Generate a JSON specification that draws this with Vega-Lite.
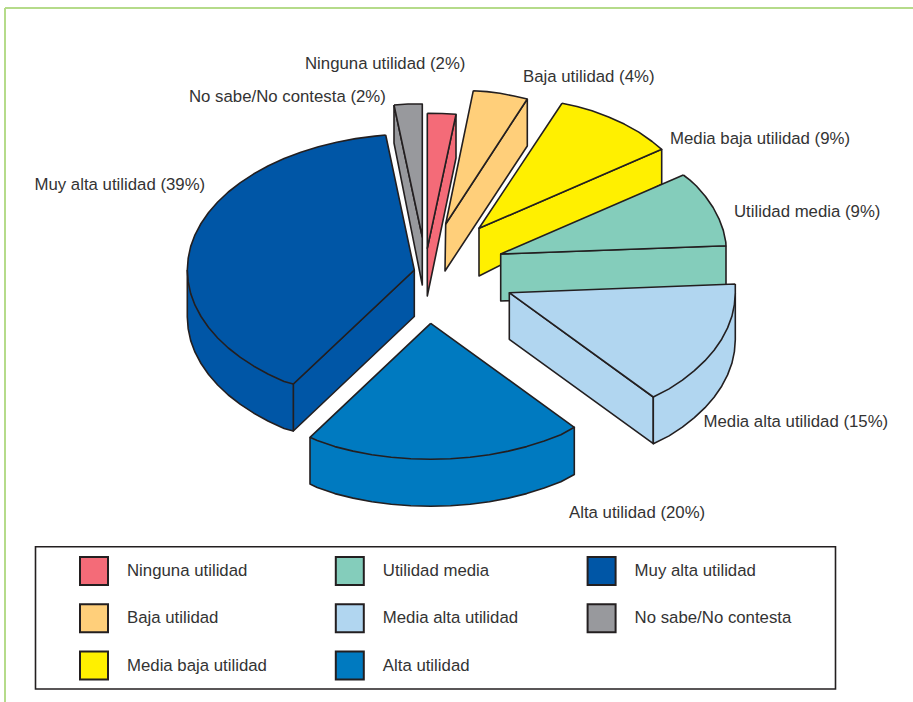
{"$schema":"https://vega.github.io/schema/vega-lite/v6.json","width":913,"height":702,"padding":0,"autosize":{"type":"none"},"background":"white","view":{"stroke":null},
"datasets":{"piezas":[{"p":"a1","c":"Muy alta utilidad"},{"p":"a2","c":"Muy alta utilidad"},{"p":"a3","c":"Muy alta utilidad"},{"p":"b1","c":"No sabe/No contesta"},{"p":"b2","c":"No sabe/No contesta"},{"p":"c1","c":"Ninguna utilidad"},{"p":"c2","c":"Ninguna utilidad"},{"p":"d1","c":"Baja utilidad"},{"p":"d2","c":"Baja utilidad"},{"p":"e1","c":"Media baja utilidad"},{"p":"e2","c":"Media baja utilidad"},{"p":"f1","c":"Utilidad media"},{"p":"f2","c":"Utilidad media"},{"p":"g1","c":"Media alta utilidad"},{"p":"g2","c":"Media alta utilidad"},{"p":"g3","c":"Media alta utilidad"},{"p":"h1","c":"Alta utilidad"},{"p":"h2","c":"Alta utilidad"}]},
"layer":[
{"data":{"values":[{"x":5,"x2":5,"y":8,"y2":702},{"x":5,"x2":913,"y":8,"y2":8}]},"mark":{"type":"rule","stroke":"#B5DB8A","strokeWidth":2},"encoding":{"x":{"field":"x","type":"quantitative","scale":{"domain":[0,913]},"axis":null},"y":{"field":"y","type":"quantitative","scale":{"domain":[702,0]},"axis":null},"x2":{"field":"x2"},"y2":{"field":"y2"}}},
{"data":{"values":[{"x":35.5,"x2":835.5,"y":546.8,"y2":689}]},"mark":{"type":"rect","fill":"white","stroke":"#231F20","strokeWidth":1.6},"encoding":{"x":{"field":"x","type":"quantitative","scale":{"domain":[0,913]},"axis":null},"y":{"field":"y","type":"quantitative","scale":{"domain":[702,0]},"axis":null},"x2":{"field":"x2"},"y2":{"field":"y2"}}},
{"data":{"values":[
{"p":"a1","x":293.3,"y":384},{"p":"a1","x":414.3,"y":270},{"p":"a1","x":414.3,"y":316.5},{"p":"a1","x":293.3,"y":431},{"p":"a1","x":293.3,"y":384},
{"p":"a2","x":187.3,"y":270},{"p":"a2","x":293.3,"y":384},{"p":"a2","x":293.3,"y":431},{"p":"a2","x":284.1,"y":428.4},{"p":"a2","x":268.4,"y":421.2},{"p":"a2","x":253.8,"y":413.2},{"p":"a2","x":240.4,"y":404.4},{"p":"a2","x":228.3,"y":395},{"p":"a2","x":217.7,"y":385},{"p":"a2","x":208.6,"y":374.5},{"p":"a2","x":201,"y":363.5},{"p":"a2","x":195,"y":352.2},{"p":"a2","x":190.7,"y":340.6},{"p":"a2","x":188.2,"y":328.9},{"p":"a2","x":187.3,"y":317},{"p":"a2","x":187.3,"y":270},
{"p":"a3","x":385.7,"y":135},{"p":"a3","x":374.9,"y":136.1},{"p":"a3","x":355.5,"y":138.6},{"p":"a3","x":336.7,"y":142.2},{"p":"a3","x":318.4,"y":146.7},{"p":"a3","x":300.8,"y":152.2},{"p":"a3","x":284.1,"y":158.6},{"p":"a3","x":268.4,"y":165.8},{"p":"a3","x":253.8,"y":173.8},{"p":"a3","x":240.4,"y":182.6},{"p":"a3","x":228.3,"y":192},{"p":"a3","x":217.7,"y":202},{"p":"a3","x":208.6,"y":212.5},{"p":"a3","x":201,"y":223.5},{"p":"a3","x":195,"y":234.8},{"p":"a3","x":190.7,"y":246.4},{"p":"a3","x":188.2,"y":258.1},{"p":"a3","x":187.3,"y":270},{"p":"a3","x":188.2,"y":281.9},{"p":"a3","x":190.7,"y":293.6},{"p":"a3","x":195,"y":305.2},{"p":"a3","x":201,"y":316.5},{"p":"a3","x":208.6,"y":327.5},{"p":"a3","x":217.7,"y":338},{"p":"a3","x":228.3,"y":348},{"p":"a3","x":240.4,"y":357.4},{"p":"a3","x":253.8,"y":366.2},{"p":"a3","x":268.4,"y":374.2},{"p":"a3","x":284.1,"y":381.4},{"p":"a3","x":293.3,"y":384},{"p":"a3","x":414.3,"y":270},{"p":"a3","x":385.7,"y":135},
{"p":"b1","x":394,"y":105},{"p":"b1","x":422.3,"y":237},{"p":"b1","x":422.3,"y":285},{"p":"b1","x":394,"y":143},{"p":"b1","x":394,"y":105},
{"p":"b2","x":394,"y":105},{"p":"b2","x":408,"y":104},{"p":"b2","x":422.3,"y":104},{"p":"b2","x":422.3,"y":237},{"p":"b2","x":394,"y":105},
{"p":"c1","x":456,"y":114.3},{"p":"c1","x":427.3,"y":248.3},{"p":"c1","x":427.3,"y":296},{"p":"c1","x":456,"y":158},{"p":"c1","x":456,"y":114.3},
{"p":"c2","x":427.3,"y":113.3},{"p":"c2","x":442,"y":113.5},{"p":"c2","x":456,"y":114.3},{"p":"c2","x":427.3,"y":248.3},{"p":"c2","x":427.3,"y":113.3},
{"p":"d1","x":527.3,"y":99},{"p":"d1","x":445.7,"y":224},{"p":"d1","x":445,"y":271},{"p":"d1","x":527.3,"y":146},{"p":"d1","x":527.3,"y":99},
{"p":"d2","x":473.3,"y":90.7},{"p":"d2","x":487,"y":91.6},{"p":"d2","x":500,"y":93.3},{"p":"d2","x":514,"y":96},{"p":"d2","x":527.3,"y":99},{"p":"d2","x":445.7,"y":224},{"p":"d2","x":473.3,"y":90.7},
{"p":"e1","x":661.7,"y":149.3},{"p":"e1","x":479,"y":228.3},{"p":"e1","x":479,"y":276},{"p":"e1","x":661.7,"y":184.3},{"p":"e1","x":661.7,"y":149.3},
{"p":"e2","x":562,"y":103.3},{"p":"e2","x":577,"y":106.5},{"p":"e2","x":592,"y":110.8},{"p":"e2","x":608.6,"y":116.9},{"p":"e2","x":624.3,"y":124.1},{"p":"e2","x":638.8,"y":132.1},{"p":"e2","x":652.1,"y":141.5},{"p":"e2","x":661.7,"y":149.3},{"p":"e2","x":479,"y":228.3},{"p":"e2","x":562,"y":103.3},
{"p":"f1","x":726,"y":245.7},{"p":"f1","x":500.7,"y":254},{"p":"f1","x":500.7,"y":301},{"p":"f1","x":726,"y":292},{"p":"f1","x":726,"y":245.7},
{"p":"f2","x":683.3,"y":175},{"p":"f2","x":690,"y":180.2},{"p":"f2","x":696.4,"y":186},{"p":"f2","x":705.5,"y":196.5},{"p":"f2","x":713.1,"y":207.5},{"p":"f2","x":719,"y":218.8},{"p":"f2","x":723.3,"y":230.4},{"p":"f2","x":725.8,"y":242.1},{"p":"f2","x":726,"y":245.7},{"p":"f2","x":500.7,"y":254},{"p":"f2","x":683.3,"y":175},
{"p":"g1","x":509.3,"y":292.7},{"p":"g1","x":653.3,"y":397},{"p":"g1","x":653.3,"y":443.7},{"p":"g1","x":509.3,"y":339.3},{"p":"g1","x":509.3,"y":292.7},
{"p":"g2","x":735.3,"y":292.7},{"p":"g2","x":653.3,"y":397},{"p":"g2","x":653.3,"y":443.7},{"p":"g2","x":669.1,"y":435.9},{"p":"g2","x":682.4,"y":427.1},{"p":"g2","x":694.4,"y":417.7},{"p":"g2","x":705,"y":407.7},{"p":"g2","x":714.1,"y":397.2},{"p":"g2","x":721.7,"y":386.2},{"p":"g2","x":727.6,"y":374.9},{"p":"g2","x":731.9,"y":363.3},{"p":"g2","x":734.4,"y":351.6},{"p":"g2","x":735.3,"y":339.7},{"p":"g2","x":735.3,"y":292.7},
{"p":"g3","x":735.3,"y":284},{"p":"g3","x":509.3,"y":292.7},{"p":"g3","x":653.3,"y":397},{"p":"g3","x":669.1,"y":388.9},{"p":"g3","x":682.4,"y":380.1},{"p":"g3","x":694.4,"y":370.7},{"p":"g3","x":705,"y":360.7},{"p":"g3","x":714.1,"y":350.2},{"p":"g3","x":721.7,"y":339.2},{"p":"g3","x":727.6,"y":327.9},{"p":"g3","x":731.9,"y":316.3},{"p":"g3","x":734.4,"y":304.6},{"p":"g3","x":735.3,"y":292.7},{"p":"g3","x":735.3,"y":284},
{"p":"h1","x":310,"y":437.3},{"p":"h1","x":574.3,"y":427.3},{"p":"h1","x":574.3,"y":474.5},{"p":"h1","x":560.9,"y":481.7},{"p":"h1","x":544.2,"y":488.1},{"p":"h1","x":526.6,"y":493.6},{"p":"h1","x":508.3,"y":498.1},{"p":"h1","x":489.4,"y":501.7},{"p":"h1","x":470.1,"y":504.2},{"p":"h1","x":450.5,"y":505.8},{"p":"h1","x":430.7,"y":506.3},{"p":"h1","x":410.9,"y":505.8},{"p":"h1","x":391.3,"y":504.2},{"p":"h1","x":371.9,"y":501.7},{"p":"h1","x":353.1,"y":498.1},{"p":"h1","x":334.8,"y":493.6},{"p":"h1","x":317.2,"y":487.5},{"p":"h1","x":310,"y":484},{"p":"h1","x":310,"y":437.3},
{"p":"h2","x":430.7,"y":323.3},{"p":"h2","x":574.3,"y":427.3},{"p":"h2","x":560.9,"y":434.7},{"p":"h2","x":544.2,"y":441.1},{"p":"h2","x":526.6,"y":446.6},{"p":"h2","x":508.3,"y":451.1},{"p":"h2","x":489.4,"y":454.7},{"p":"h2","x":470.1,"y":457.2},{"p":"h2","x":450.5,"y":458.8},{"p":"h2","x":430.7,"y":459.3},{"p":"h2","x":410.9,"y":458.8},{"p":"h2","x":391.3,"y":457.2},{"p":"h2","x":371.9,"y":454.7},{"p":"h2","x":353.1,"y":451.1},{"p":"h2","x":334.8,"y":446.6},{"p":"h2","x":317.2,"y":440.5},{"p":"h2","x":310,"y":437.3},{"p":"h2","x":430.7,"y":323.3}
]},"transform":[{"window":[{"op":"row_number","as":"n"}]},{"lookup":"p","from":{"data":{"name":"piezas"},"key":"p","fields":["c"]}}],
"mark":{"type":"line","stroke":"#231F20","strokeWidth":1.6,"strokeJoin":"round","clip":false},
"encoding":{"x":{"field":"x","type":"quantitative","scale":{"domain":[0,913]},"axis":null},"y":{"field":"y","type":"quantitative","scale":{"domain":[702,0]},"axis":null},"detail":{"field":"p"},"order":{"field":"n","type":"quantitative"},
"fill":{"field":"c","type":"nominal","scale":{"domain":["Ninguna utilidad","Baja utilidad","Media baja utilidad","Utilidad media","Media alta utilidad","Alta utilidad","Muy alta utilidad","No sabe/No contesta"],"range":["#F46B78","#FFCF7A","#FFF000","#84CDBB","#B1D6F0","#007AC0","#0056A6","#98999D"]},
"legend":{"orient":"none","legendX":79,"legendY":556,"columns":3,"title":null,"padding":0,"zindex":1,"symbolType":"square","symbolSize":784,"symbolStrokeColor":"#231F20","symbolStrokeWidth":2,"symbolOpacity":1,"columnPadding":64.8,"rowPadding":11.3,"labelOffset":18,"labelFont":"Liberation Sans","labelFontSize":16.8,"labelColor":"#333333","labelLimit":300}}}},
{"data":{"values":[
{"t":"Ninguna utilidad (2%)","x":305,"y":64},{"t":"No sabe/No contesta (2%)","x":189,"y":97},{"t":"Baja utilidad (4%)","x":523,"y":77},{"t":"Media baja utilidad (9%)","x":670,"y":139},{"t":"Utilidad media (9%)","x":734,"y":212},{"t":"Muy alta utilidad (39%)","x":34.5,"y":185},{"t":"Media alta utilidad (15%)","x":703.5,"y":422},{"t":"Alta utilidad (20%)","x":569,"y":513}]},
"mark":{"type":"text","align":"left","baseline":"middle","font":"Liberation Sans","fontSize":16.8,"fill":"#333333"},
"encoding":{"x":{"field":"x","type":"quantitative","scale":{"domain":[0,913]},"axis":null},"y":{"field":"y","type":"quantitative","scale":{"domain":[702,0]},"axis":null},"text":{"field":"t"}}}
]}
